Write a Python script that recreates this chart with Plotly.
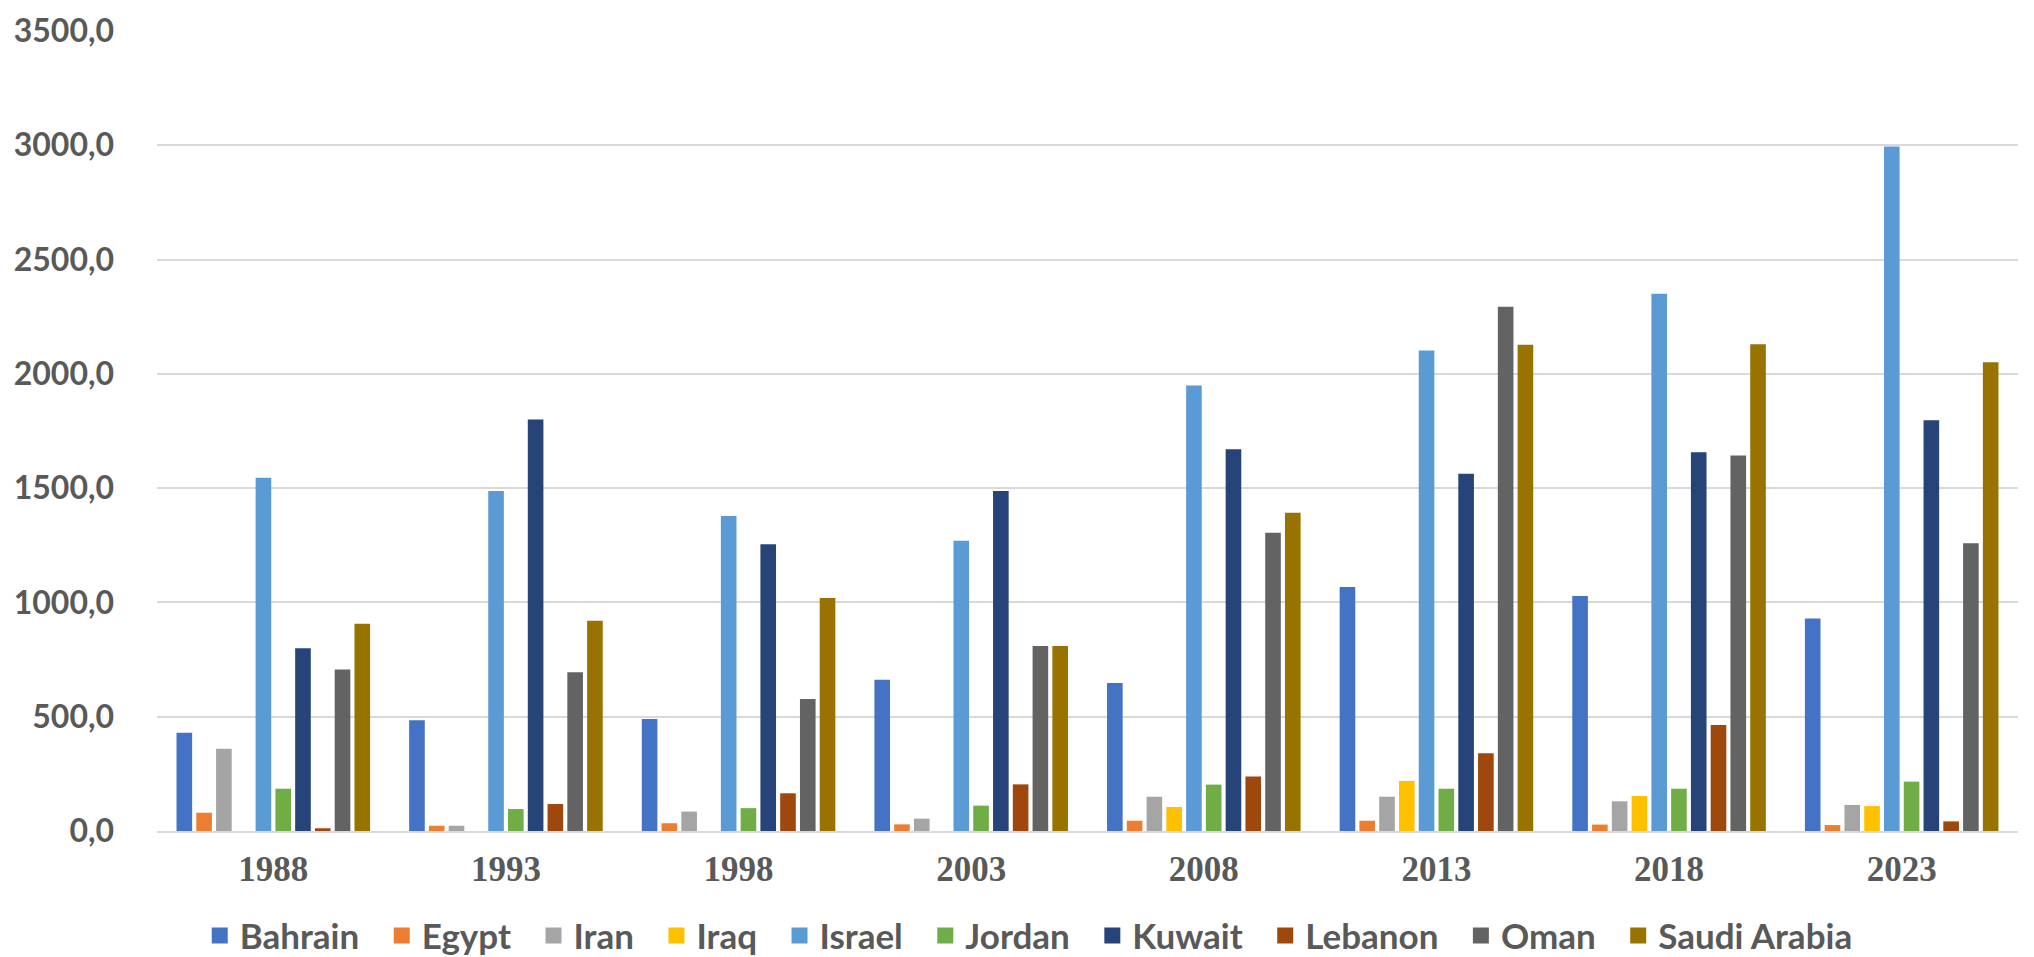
import plotly.graph_objects as go

years = ["1988", "1993", "1998", "2003", "2008", "2013", "2018", "2023"]
countries = ["Bahrain", "Egypt", "Iran", "Iraq", "Israel", "Jordan",
             "Kuwait", "Lebanon", "Oman", "Saudi Arabia"]

bahrain = [430, 485, 490, 662, 647, 1067, 1028, 930]
egypt = [80, 23, 34, 29, 45, 45, 28, 26]
iran = [360, 23, 85, 54, 150, 150, 130, 114]
iraq = [0, 0, 0, 0, 105, 219, 153, 109]
israel = [1545, 1487, 1378, 1270, 1949, 2102, 2351, 2995]
jordan = [185, 96, 100, 111, 203, 185, 185, 216]
kuwait = [799, 1800, 1254, 1488, 1670, 1563, 1657, 1797]
lebanon = [12, 118, 165, 204, 238, 340, 464, 42]
oman = [707, 694, 577, 809, 1305, 2294, 1643, 1259]
saudi = [907, 920, 1019, 809, 1392, 2127, 2130, 2051]

series = [bahrain, egypt, iran, iraq, israel, jordan, kuwait, lebanon, oman, saudi]
colors = ["#4472C4", "#ED7D31", "#A5A5A5", "#FFC000", "#5B9BD5",
          "#70AD47", "#264478", "#9E480E", "#636363", "#997300"]

y_ticks = [0, 500, 1000, 1500, 2000, 2500, 3000, 3500]

label_font = "Lato, Open Sans, sans-serif"

fig = go.Figure()
for name, vals, col in zip(countries, series, colors):
    fig.add_trace(go.Bar(name=name, x=years, y=vals, showlegend=False,
                         marker=dict(color=col, line=dict(width=0))))
# legend entries with square swatches
for name, col in zip(countries, colors):
    fig.add_trace(go.Scatter(name=name + "\u2002", x=[None], y=[None], mode="markers",
                             marker=dict(symbol="square", size=19, color=col),
                             showlegend=True, hoverinfo="skip"))

fig.update_layout(
    width=2034, height=957,
    barmode="group", bargap=0.15, bargroupgap=0.21,
    plot_bgcolor="white", paper_bgcolor="white",
    margin=dict(l=149, r=24, t=23, b=134, autoexpand=False),
    separators=", ",
    legend=dict(orientation="h", x=0.473, xanchor="center", y=-0.131, yanchor="middle",
                font=dict(family=label_font, size=35, color="#595959", weight="bold"),
                itemsizing="trace", itemwidth=30, traceorder="normal"),
    showlegend=True,
)
fig.update_yaxes(range=[0, 3500], tickvals=y_ticks, tickformat=".1f",
                 showgrid=True, gridcolor="#D9D9D9", gridwidth=2,
                 zeroline=False, showline=False, ticks="",
                 ticklabelstandoff=42,
                 tickfont=dict(family=label_font, size=32, color="#595959", weight="bold"))
fig.update_xaxes(showline=True, linecolor="#D9D9D9", linewidth=2, ticks="",
                 ticklabelstandoff=6,
                 tickfont=dict(family="Liberation Serif, Times New Roman, serif", size=35,
                               color="#595959", weight="bold"))

fig.write_html("out.html")
